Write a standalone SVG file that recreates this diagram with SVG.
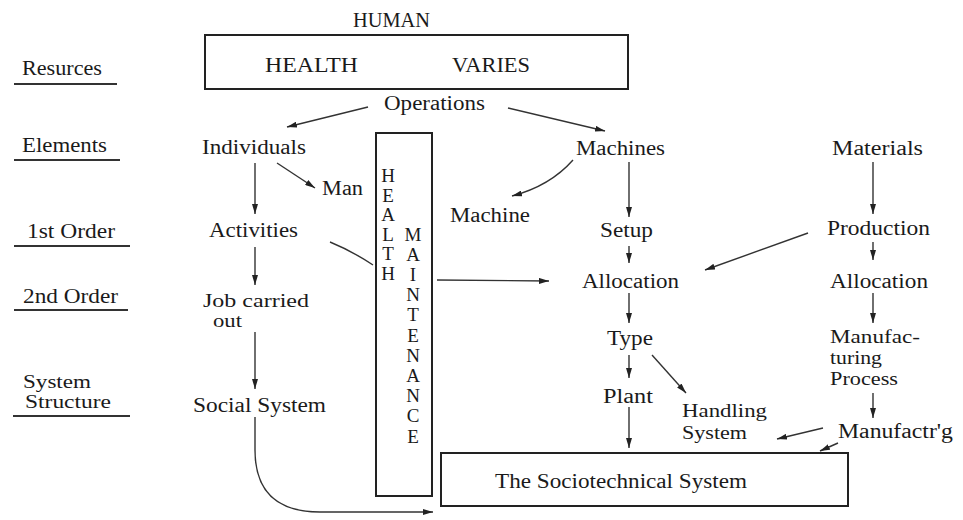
<svg xmlns="http://www.w3.org/2000/svg" width="963" height="520" viewBox="0 0 963 520" font-family="'Liberation Serif', 'Times New Roman', serif" font-size="20">
  <style>
    .box { fill: none; stroke: #222; stroke-width: 2; }
    .rule { stroke: #333; stroke-width: 2; }
    .edge { fill: none; stroke: #333; stroke-width: 1.4; }
    .arrow { fill: none; stroke: #333; stroke-width: 1.4; marker-end: url(#head); }
  </style>
  <defs>
    <marker id="head" viewBox="0 0 10 6" refX="10" refY="3" markerWidth="10" markerHeight="6" markerUnits="userSpaceOnUse" orient="auto">
      <path d="M0,0 L10,3 L0,6 Z" fill="#222"/>
    </marker>
  </defs>
  <rect width="963" height="520" fill="#fff"/>

  <g fill="#1a1a1a">
  <!-- level labels on the left -->
  <g id="levels">
    <text x="22" y="75" textLength="80" lengthAdjust="spacingAndGlyphs">Resurces</text>
    <line class="rule" x1="14" y1="84" x2="117" y2="84"/>
    <text x="22" y="152" textLength="85" lengthAdjust="spacingAndGlyphs">Elements</text>
    <line class="rule" x1="14" y1="160" x2="120" y2="160"/>
    <text x="27" y="238" textLength="88" lengthAdjust="spacingAndGlyphs">1st Order</text>
    <line class="rule" x1="14" y1="246" x2="130" y2="246"/>
    <text x="23" y="303" textLength="95" lengthAdjust="spacingAndGlyphs">2nd Order</text>
    <line class="rule" x1="14" y1="310" x2="128" y2="310"/>
    <text x="23" y="388" font-size="18" textLength="68" lengthAdjust="spacingAndGlyphs">System</text>
    <text x="25" y="408" font-size="18" textLength="86" lengthAdjust="spacingAndGlyphs">Structure</text>
    <line class="rule" x1="13" y1="416" x2="130" y2="416"/>
  </g>

  <!-- human resources box -->
  <g id="human">
    <text x="353" y="27" textLength="77" lengthAdjust="spacingAndGlyphs">HUMAN</text>
    <rect class="box" x="205" y="35" width="423" height="54"/>
    <text x="265" y="72" textLength="93" lengthAdjust="spacingAndGlyphs">HEALTH</text>
    <text x="452" y="72" textLength="78" lengthAdjust="spacingAndGlyphs">VARIES</text>
  </g>

  <g id="operations"><text x="384" y="110" textLength="101" lengthAdjust="spacingAndGlyphs">Operations</text></g>
  <g id="individuals"><text x="202" y="154" textLength="104" lengthAdjust="spacingAndGlyphs">Individuals</text></g>
  <g id="man"><text x="322" y="195" textLength="41" lengthAdjust="spacingAndGlyphs">Man</text></g>
  <g id="activities"><text x="209" y="237" textLength="89" lengthAdjust="spacingAndGlyphs">Activities</text></g>
  <g id="job" font-size="18">
    <text x="203" y="307" textLength="106" lengthAdjust="spacingAndGlyphs">Job carried</text>
    <text x="213" y="327" textLength="29" lengthAdjust="spacingAndGlyphs">out</text>
  </g>
  <g id="social"><text x="193" y="412" textLength="133" lengthAdjust="spacingAndGlyphs">Social System</text></g>

  <!-- vertical health maintenance box -->
  <g id="maintenance" text-anchor="middle" font-size="19">
    <rect class="box" x="376" y="133" width="56" height="363"/>
    <text x="388" y="182">H</text>
    <text x="388" y="201.6">E</text>
    <text x="388" y="221.2">A</text>
    <text x="388" y="240.8">L</text>
    <text x="388" y="260.4">T</text>
    <text x="388" y="280">H</text>
    <text x="413" y="240.5">M</text>
    <text x="413" y="260.7">A</text>
    <text x="413" y="280.9">I</text>
    <text x="413" y="301.1">N</text>
    <text x="413" y="321.3">T</text>
    <text x="413" y="341.5">E</text>
    <text x="413" y="361.7">N</text>
    <text x="413" y="381.9">A</text>
    <text x="413" y="402.1">N</text>
    <text x="413" y="422.3">C</text>
    <text x="413" y="442.5">E</text>
  </g>

  <g id="machines"><text x="576" y="155" textLength="89" lengthAdjust="spacingAndGlyphs">Machines</text></g>
  <g id="machine"><text x="450" y="222" textLength="80" lengthAdjust="spacingAndGlyphs">Machine</text></g>
  <g id="setup"><text x="600" y="237" textLength="53" lengthAdjust="spacingAndGlyphs">Setup</text></g>
  <g id="allocation-m"><text x="582" y="288" textLength="97" lengthAdjust="spacingAndGlyphs">Allocation</text></g>
  <g id="type"><text x="607" y="345" textLength="46" lengthAdjust="spacingAndGlyphs">Type</text></g>
  <g id="plant"><text x="603" y="403" textLength="50" lengthAdjust="spacingAndGlyphs">Plant</text></g>
  <g id="handling" font-size="18">
    <text x="682" y="417" textLength="85" lengthAdjust="spacingAndGlyphs">Handling</text>
    <text x="682" y="439" textLength="65" lengthAdjust="spacingAndGlyphs">System</text>
  </g>

  <g id="materials"><text x="832" y="155" textLength="91" lengthAdjust="spacingAndGlyphs">Materials</text></g>
  <g id="production"><text x="827" y="235" textLength="103" lengthAdjust="spacingAndGlyphs">Production</text></g>
  <g id="allocation-p"><text x="830" y="288" textLength="98" lengthAdjust="spacingAndGlyphs">Allocation</text></g>
  <g id="process" font-size="18">
    <text x="830" y="343" textLength="90" lengthAdjust="spacingAndGlyphs">Manufac-</text>
    <text x="830" y="364" textLength="52" lengthAdjust="spacingAndGlyphs">turing</text>
    <text x="830" y="385" textLength="68" lengthAdjust="spacingAndGlyphs">Process</text>
  </g>
  <g id="manufacturing"><text x="838" y="438" textLength="115" lengthAdjust="spacingAndGlyphs">Manufactr'g</text></g>

  <g id="sociotechnical">
    <rect class="box" x="441" y="453" width="407" height="53"/>
    <text x="495" y="488" textLength="252" lengthAdjust="spacingAndGlyphs">The Sociotechnical System</text>
  </g>
  </g>

  <!-- connectors -->
  <g id="connectors">
    <line class="arrow" x1="368" y1="107" x2="287" y2="127"/>
    <line class="arrow" x1="508" y1="108" x2="605" y2="131"/>
    <line class="arrow" x1="277" y1="163" x2="315" y2="188"/>
    <line class="arrow" x1="255" y1="163" x2="255" y2="214"/>
    <line class="arrow" x1="255" y1="247" x2="255" y2="285"/>
    <line class="arrow" x1="255" y1="332" x2="255" y2="389"/>
    <path class="arrow" d="M255,417 L255,450 Q255,512 320,512 L433,512"/>
    <path class="edge" d="M330,242 Q352,251 373,265"/>
    <line class="arrow" x1="437" y1="280" x2="549" y2="281"/>
    <path class="arrow" d="M573,160 Q550,186 512,196"/>
    <line class="arrow" x1="629" y1="162" x2="629" y2="217"/>
    <line class="arrow" x1="629" y1="246" x2="629" y2="263"/>
    <line class="arrow" x1="629" y1="293" x2="629" y2="323"/>
    <line class="arrow" x1="629" y1="355" x2="629" y2="378"/>
    <line class="arrow" x1="652" y1="355" x2="686" y2="393"/>
    <line class="arrow" x1="629" y1="407" x2="629" y2="448"/>
    <line class="arrow" x1="808" y1="233" x2="705" y2="270"/>
    <line class="arrow" x1="873" y1="162" x2="873" y2="214"/>
    <line class="arrow" x1="873" y1="242" x2="873" y2="260"/>
    <line class="arrow" x1="873" y1="293" x2="873" y2="323"/>
    <line class="arrow" x1="873" y1="393" x2="873" y2="418"/>
    <line class="arrow" x1="823" y1="428" x2="777" y2="439"/>
    <line class="arrow" x1="838" y1="443" x2="820" y2="451"/>
  </g>
</svg>
